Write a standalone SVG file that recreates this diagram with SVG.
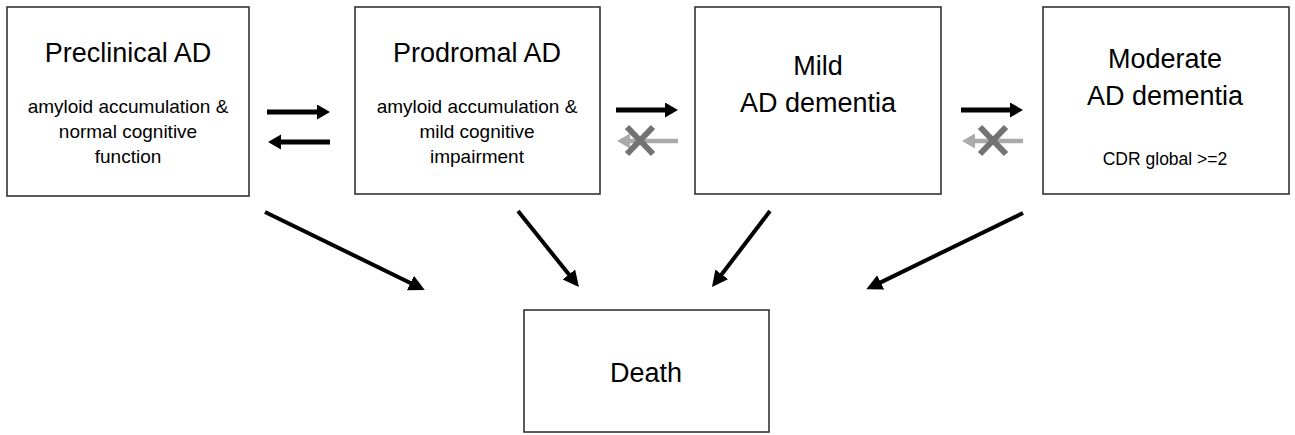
<svg xmlns="http://www.w3.org/2000/svg" width="1295" height="435" viewBox="0 0 1295 435">
<defs>
<style>
.box{fill:#fff;stroke:#333;stroke-width:1.6}
.t{font-family:"Liberation Sans",Arial,sans-serif;fill:#000;text-anchor:middle}
.h{font-size:27px}
.s{font-size:19px}
.c{font-size:17.5px}
.arr{stroke:#000;stroke-width:5;fill:none}
.diag{stroke:#000;stroke-width:4;fill:none}
.garr{stroke:#aaa;stroke-width:4.5;fill:none}
.x{stroke:#737373;stroke-width:6;fill:none}
</style>
<marker id="hb" markerUnits="userSpaceOnUse" markerWidth="16" markerHeight="16" refX="2" refY="7.5" orient="auto"><path d="M0,0 L13,7.5 L0,15 z" fill="#000"/></marker>
<marker id="hg" markerUnits="userSpaceOnUse" markerWidth="16" markerHeight="16" refX="2" refY="7.5" orient="auto"><path d="M0,0 L13,7.5 L0,15 z" fill="#aaa"/></marker>
<marker id="hd" markerUnits="userSpaceOnUse" markerWidth="17" markerHeight="17" refX="4" refY="8" orient="auto"><path d="M0,0 L16,8 L0,16 z" fill="#000"/></marker>
</defs>
<rect width="1295" height="435" fill="#fff"/>
<g id="connectors">
<line class="arr" x1="267" y1="112" x2="319" y2="112" marker-end="url(#hb)"/>
<line class="arr" x1="330" y1="142" x2="279" y2="142" marker-end="url(#hb)"/>
<line class="arr" x1="616" y1="110" x2="667" y2="110" marker-end="url(#hb)"/>
<line class="arr" x1="961" y1="110" x2="1012" y2="110" marker-end="url(#hb)"/>
<line class="garr" x1="678" y1="141" x2="628" y2="141" marker-end="url(#hg)"/>
<line class="garr" x1="1023" y1="141" x2="973" y2="141" marker-end="url(#hg)"/>
<path class="x" d="M627,127 L653,154 M653,127 L627,154"/>
<path class="x" d="M980,127 L1006,154 M1006,127 L980,154"/>
<line class="diag" x1="265" y1="212" x2="414" y2="284.7" marker-end="url(#hd)"/>
<line class="diag" x1="518" y1="211" x2="571.4" y2="277.6" marker-end="url(#hd)"/>
<line class="diag" x1="770" y1="211" x2="719.3" y2="277.5" marker-end="url(#hd)"/>
<line class="diag" x1="1023" y1="213" x2="877.1" y2="284.1" marker-end="url(#hd)"/>
</g>
<g id="preclinical">
<rect class="box" x="7" y="7" width="242" height="189"/>
<text class="t h" x="128" y="62">Preclinical AD</text>
<text class="t s" x="128" y="113">amyloid accumulation &amp;</text>
<text class="t s" x="128" y="138">normal cognitive</text>
<text class="t s" x="128" y="163">function</text>
</g>
<g id="prodromal">
<rect class="box" x="355" y="7" width="245" height="187"/>
<text class="t h" x="477" y="62">Prodromal AD</text>
<text class="t s" x="477" y="113">amyloid accumulation &amp;</text>
<text class="t s" x="477" y="138">mild cognitive</text>
<text class="t s" x="477" y="163">impairment</text>
</g>
<g id="mild">
<rect class="box" x="695" y="7" width="246" height="187"/>
<text class="t h" x="818" y="75">Mild</text>
<text class="t h" x="818" y="112">AD dementia</text>
</g>
<g id="moderate">
<rect class="box" x="1043" y="7" width="246" height="187"/>
<text class="t h" x="1165" y="68">Moderate</text>
<text class="t h" x="1165" y="105">AD dementia</text>
<text class="t c" x="1165" y="165">CDR global &gt;=2</text>
</g>
<g id="death">
<rect class="box" x="524" y="310" width="245" height="122"/>
<text class="t h" x="646" y="382">Death</text>
</g>
</svg>
